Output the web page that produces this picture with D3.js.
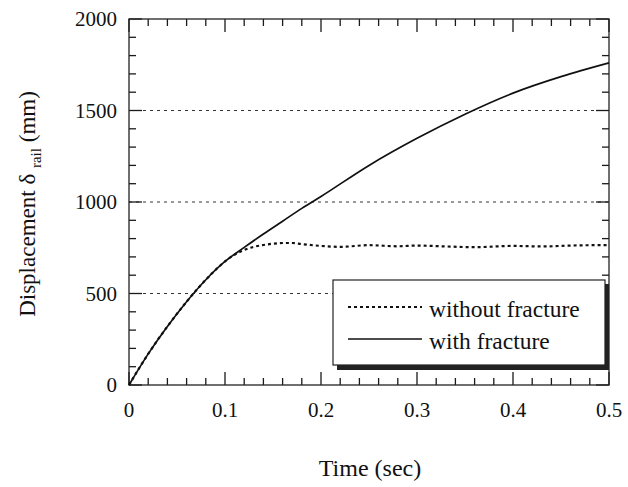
<!DOCTYPE html>
<html>
<head>
<meta charset="utf-8">
<script src="https://cdn.jsdelivr.net/npm/d3@7"></script>
<style>
  body { margin: 0; background: #fff; }
  text { font-family: "Liberation Serif", "DejaVu Serif", serif; fill: #111; }
</style>
</head>
<body>
<svg id="chart" width="628" height="487"></svg>
<script>
// values
let timeVals = [0, 0.02, 0.04, 0.06, 0.08, 0.1, 0.12, 0.14, 0.16, 0.18, 0.2, 0.25, 0.3, 0.35, 0.4, 0.45, 0.5]
let withFracture = [0, 170, 320, 455, 575, 675, 752, 825, 895, 965, 1030, 1200, 1348, 1480, 1595, 1685, 1760]
let noFracTime = [0, 0.02, 0.04, 0.06, 0.08, 0.1, 0.11, 0.12, 0.13, 0.14, 0.15, 0.16, 0.17, 0.18, 0.2, 0.22, 0.25, 0.28, 0.3, 0.33, 0.36, 0.4, 0.43, 0.46, 0.5]
let noFracture = [0, 170, 320, 455, 575, 675, 712, 738, 755, 765, 772, 776, 776, 770, 760, 755, 764, 758, 762, 757, 753, 760, 757, 762, 765]
let xTicks = [0, 0.1, 0.2, 0.3, 0.4, 0.5]
let yTicks = [0, 500, 1000, 1500, 2000]
let gridVals = [500, 1000, 1500]

let svg = d3.select('#chart')
let padL = 129, padR = 609, padT = 19, padB = 385

let x = d3.scaleLinear().domain([0, 0.5]).range([padL, padR])
let y = d3.scaleLinear().domain([0, 2000]).range([padB, padT])

// dotted grid
svg.selectAll('line.grid')
    .data(gridVals)
    .enter()
    .append('line')
    .attr('class', 'grid')
    .attr('x1', padL).attr('x2', padR)
    .attr('y1', d => y(d)).attr('y2', d => y(d))
    .attr('stroke', '#333')
    .attr('stroke-width', 1)
    .attr('stroke-dasharray', '3,4')

// ticks on all four sides, pointing inward (minor every 0.02 / 100)
let xMinor = d3.range(0, 0.5001, 0.02)
let yMinor = d3.range(0, 2000.1, 100)
let isMajorX = d => xTicks.some(t => Math.abs(t - d) < 1e-6)
let isMajorY = d => yTicks.some(t => Math.abs(t - d) < 1e-6)
let tickG = svg.append('g').attr('stroke', '#1a1a1a').attr('stroke-width', 1.3)
for (let side of [padB, padT]) {
    let dir = side === padB ? -1 : 1
    tickG.selectAll(null)
        .data(xMinor)
        .enter()
        .append('line')
        .attr('x1', d => x(d)).attr('x2', d => x(d))
        .attr('y1', side)
        .attr('y2', d => side + dir * (isMajorX(d) ? 13 : 7))
}
for (let side of [padL, padR]) {
    let dir = side === padL ? 1 : -1
    tickG.selectAll(null)
        .data(yMinor)
        .enter()
        .append('line')
        .attr('y1', d => y(d)).attr('y2', d => y(d))
        .attr('x1', side)
        .attr('x2', d => side + dir * (isMajorY(d) ? 13 : 7))
}
svg.append('rect')
    .attr('x', padL).attr('y', padT)
    .attr('width', padR - padL).attr('height', padB - padT)
    .attr('fill', 'none').attr('stroke', '#222').attr('stroke-width', 1.3)

// tick labels
svg.selectAll('text.xlab')
    .data(xTicks)
    .enter()
    .append('text')
    .attr('x', d => x(d))
    .attr('y', 417)
    .attr('text-anchor', 'middle')
    .attr('font-size', 21)
    .text(d => d === 0 ? '0' : d3.format('.1f')(d))
svg.selectAll('text.ylab')
    .data(yTicks)
    .enter()
    .append('text')
    .attr('x', 117)
    .attr('y', d => y(d) + 7)
    .attr('text-anchor', 'end')
    .attr('font-size', 21)
    .text(d => d)

svg.append('text')
    .attr('x', 370).attr('y', 476)
    .attr('text-anchor', 'middle')
    .attr('font-size', 24)
    .text('Time (sec)')

let ylab = svg.append('text')
    .attr('transform', 'translate(35,204) rotate(-90)')
    .attr('text-anchor', 'middle')
    .attr('font-size', 23)
ylab.append('tspan').text('Displacement δ ')
ylab.append('tspan').attr('font-size', 15).attr('dy', 6).text('rail')
ylab.append('tspan').attr('dy', -6).text('  (mm)')

// curves
let line = d3.line().x(d => x(d[0])).y(d => y(d[1])).curve(d3.curveMonotoneX)
svg.append('path')
    .datum(noFracTime.map((t, i) => [t, noFracture[i]]))
    .attr('d', line)
    .attr('fill', 'none')
    .attr('stroke', '#111')
    .attr('stroke-width', 2.2)
    .attr('stroke-dasharray', '3,3')
svg.append('path')
    .datum(timeVals.map((t, i) => [t, withFracture[i]]))
    .attr('d', line)
    .attr('fill', 'none')
    .attr('stroke', '#111')
    .attr('stroke-width', 1.7)

// legend with drop shadow
let lg = svg.append('g')
lg.append('rect').attr('x', 337).attr('y', 284).attr('width', 272).attr('height', 86).attr('fill', '#222')
lg.append('rect').attr('x', 333).attr('y', 280).attr('width', 272).attr('height', 85)
    .attr('fill', '#fff').attr('stroke', '#222').attr('stroke-width', 1.2)
lg.append('line').attr('x1', 348).attr('x2', 422).attr('y1', 307).attr('y2', 307)
    .attr('stroke', '#111').attr('stroke-width', 2).attr('stroke-dasharray', '3,3')
lg.append('line').attr('x1', 348).attr('x2', 422).attr('y1', 339).attr('y2', 339)
    .attr('stroke', '#111').attr('stroke-width', 1.3)
lg.append('text').attr('x', 429).attr('y', 317).attr('font-size', 23.5).text('without fracture')
lg.append('text').attr('x', 429).attr('y', 349).attr('font-size', 23.5).text('with fracture')
</script>
</body>
</html>
